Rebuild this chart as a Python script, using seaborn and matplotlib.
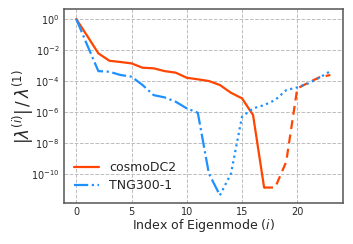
import numpy as np
import matplotlib
matplotlib.use("Agg")
import matplotlib.pyplot as plt
import seaborn as sns
import pandas as pd

idx = list(range(24))
cosmo_log = [0.0, -1.1, -2.22, -2.7, -2.78, -2.87, -3.15, -3.19, -3.37, -3.47, -3.8,
             -3.9, -4.01, -4.27, -4.77, -5.13, -6.21, -10.9, -10.9, -9.24, -4.49,
             -4.12, -3.77, -3.62]
tng_log = [0.0, -1.7, -3.37, -3.41, -3.62, -3.73, -4.27, -4.92, -5.07, -5.35, -5.78,
           -6.06, -9.99, -11.4, -10.0, -6.32, -5.78, -5.57, -5.24, -4.6, -4.42,
           -4.16, -3.8, -3.37]
cosmo_split = 17  # solid up to this index, dashed after
tng_split = 13    # dash-dot up to this index, dotted after

cosmo = 10.0 ** np.array(cosmo_log)
tng = 10.0 ** np.array(tng_log)

sns.set_style("whitegrid", {"grid.linestyle": "--", "grid.color": "#bdbdbd",
                            "axes.edgecolor": "#555555"})
plt.rcParams['font.family'] = ['DejaVu Sans']

fig, ax = plt.subplots(figsize=(3.53, 2.44), dpi=100)
fig.subplots_adjust(left=0.18, right=0.972, top=0.962, bottom=0.168)

orange = "#FF4500"
blue = "#1E90FF"
lw = 1.6

df_c1 = pd.DataFrame({"x": idx[:cosmo_split + 1], "y": cosmo[:cosmo_split + 1]})
df_c2 = pd.DataFrame({"x": idx[cosmo_split:], "y": cosmo[cosmo_split:]})
df_t1 = pd.DataFrame({"x": idx[:tng_split + 1], "y": tng[:tng_split + 1]})
df_t2 = pd.DataFrame({"x": idx[tng_split:], "y": tng[tng_split:]})

sns.lineplot(data=df_c1, x="x", y="y", ax=ax, color=orange, lw=lw, label="cosmoDC2")
sns.lineplot(data=df_c2, x="x", y="y", ax=ax, color=orange, lw=lw, linestyle=(0, (4, 2.5)))
sns.lineplot(data=df_t1, x="x", y="y", ax=ax, color=blue, lw=lw, linestyle="-.", label="TNG300-1")
sns.lineplot(data=df_t2, x="x", y="y", ax=ax, color=blue, lw=lw, linestyle=(0, (1, 1.6)))

ax.set_yscale("log")
ax.set_xlim(-1.15, 24.15)
ax.set_ylim(10 ** -11.9, 10 ** 0.63)
ax.set_yticks([1e0, 1e-2, 1e-4, 1e-6, 1e-8, 1e-10])
ax.minorticks_off()
ax.set_xticks([0, 5, 10, 15, 20])
ax.tick_params(axis="both", labelsize=7, direction="in", length=2, width=0.6,
               color="#555555", pad=3)
for s in ax.spines.values():
    s.set_linewidth(1.1)
ax.grid(True, which="major", linestyle="--", color="#bdbdbd", lw=0.7)

ax.set_xlabel(r"Index of Eigenmode ($i$)", fontsize=9, labelpad=0)
ax.set_ylabel(r"$|\lambda^{(i)}|\,/\,\lambda^{(1)}$", fontsize=12, labelpad=-4)
ax.legend(loc="lower left", frameon=False, fontsize=9, handlelength=2.0,
          borderaxespad=0.46, labelspacing=0.4, bbox_to_anchor=(0.0, 0.0))

fig.savefig("out.png", dpi=100)
